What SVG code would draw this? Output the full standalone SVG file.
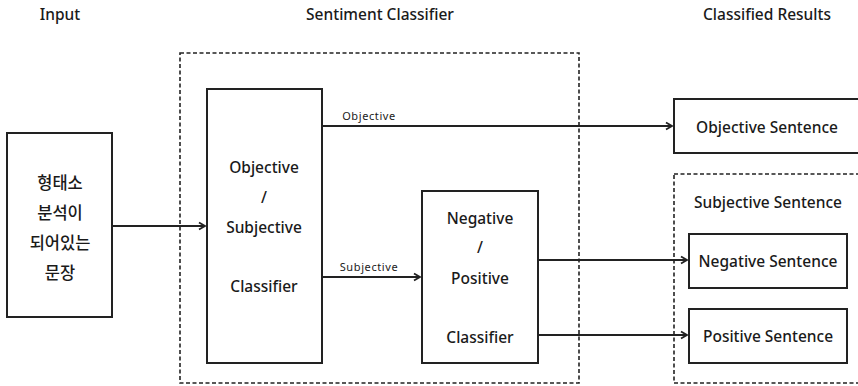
<svg xmlns="http://www.w3.org/2000/svg" width="858" height="386" viewBox="0 0 858 386">
<defs>
<style>
.box{fill:#fff;stroke:#222;stroke-width:2}
.dash{fill:none;stroke:#222;stroke-width:1.6;stroke-dasharray:4 2.5}
.ln{fill:none;stroke:#222;stroke-width:1.8}
text{font-family:"Noto Sans","Noto Sans CJK KR",sans-serif;fill:#1a1a1a;text-anchor:middle;font-weight:500}
.t{font-size:15.5px}
.k{font-size:16.5px;font-family:"Noto Sans CJK KR",sans-serif}
.h{font-size:15.5px}
.s{font-size:11px;letter-spacing:0.6px;font-weight:400}
</style>
<marker id="arr" markerWidth="10" markerHeight="10" refX="8" refY="5" orient="auto" markerUnits="userSpaceOnUse">
<path d="M2,1.5 L8,5 L2,8.5" fill="none" stroke="#222" stroke-width="1.8"/>
</marker>
</defs>
<rect width="858" height="386" fill="#fff"/>
<g id="titles">
<text class="h" x="60" y="20">Input</text>
<text class="h" x="380" y="20">Sentiment Classifier</text>
<text class="h" x="767" y="20">Classified Results</text>
</g>
<g id="sentiment-classifier-group"><rect class="dash" x="180" y="53" width="399" height="330"/></g>
<g id="subjective-sentence-group"><rect class="dash" x="674" y="174" width="190" height="209"/>
<text class="t" x="768" y="208">Subjective Sentence</text></g>
<g id="input"><rect class="box" x="7" y="133" width="105" height="184"/>
<text class="k" x="60" y="189">형태소</text>
<text class="k" x="60" y="219">분석이</text>
<text class="k" x="60" y="249">되어있는</text>
<text class="k" x="60" y="279">문장</text></g>
<g id="obj-subj-classifier"><rect class="box" x="207" y="89" width="115" height="274"/>
<text class="t" x="264" y="173">Objective</text>
<text class="t" x="264" y="203">/</text>
<text class="t" x="264" y="233">Subjective</text>
<text class="t" x="264" y="292">Classifier</text></g>
<g id="neg-pos-classifier"><rect class="box" x="422" y="191" width="116" height="172"/>
<text class="t" x="480" y="224">Negative</text>
<text class="t" x="480" y="253">/</text>
<text class="t" x="480" y="284">Positive</text>
<text class="t" x="480" y="343">Classifier</text></g>
<g id="objective-sentence"><rect class="box" x="674" y="99" width="200" height="54"/>
<text class="t" x="767" y="133">Objective Sentence</text></g>
<g id="negative-sentence"><rect class="box" x="689" y="234" width="158" height="54"/>
<text class="t" x="768" y="267">Negative Sentence</text></g>
<g id="positive-sentence"><rect class="box" x="689" y="309" width="158" height="54"/>
<text class="t" x="768" y="342">Positive Sentence</text></g>
<g id="connectors">
<line class="ln" x1="112" y1="226" x2="205" y2="226" marker-end="url(#arr)"/>
<line class="ln" x1="322" y1="126" x2="672" y2="126" marker-end="url(#arr)"/>
<text class="s" x="369" y="120">Objective</text>
<line class="ln" x1="322" y1="277" x2="420" y2="277" marker-end="url(#arr)"/>
<text class="s" x="369" y="271">Subjective</text>
<line class="ln" x1="538" y1="260" x2="687" y2="260" marker-end="url(#arr)"/>
<line class="ln" x1="538" y1="335" x2="687" y2="335" marker-end="url(#arr)"/>
</g>
</svg>
